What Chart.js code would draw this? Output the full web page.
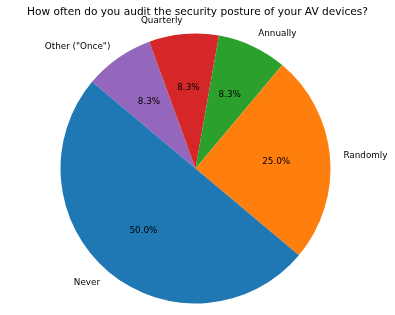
<!DOCTYPE html>
<html>
<head>
<meta charset="utf-8">
<script src="https://cdn.jsdelivr.net/npm/chart.js@4"></script>
<style>
  body { margin: 0; background: #fff; }
  #myPieChart { display: block; }
</style>
</head>
<body>
<canvas id="myPieChart" width="395" height="315"></canvas>
<script>
// Data, in the order the answers were listed
var categories = ['Never', 'Randomly', 'Annually', 'Quarterly', 'Other ("Once")'];
var responses = [6, 3, 1, 1, 1];
var sliceColors = ['#1f77b4', '#ff7f0e', '#2ca02c', '#d62728', '#9467bd'];
var chartTitle = 'How often do you audit the security posture of your AV devices?';

document.addEventListener('DOMContentLoaded', function() {

    // Chart.js goes clockwise, the original went counter-clockwise, so flip the order
    var labels = categories.slice().reverse();
    var values = responses.slice().reverse();
    var colors = sliceColors.slice().reverse();
    var total = values.reduce(function(a, b) { return a + b; }, 0);

    // Draws the title, the outside labels and the percentages
    var pieText = {
        id: 'pieText',
        afterDraw: function(chart) {
            var ctx = chart.ctx;
            ctx.save();
            ctx.fillStyle = '#000';

            ctx.font = '10.6px "DejaVu Sans"';
            ctx.textAlign = 'center';
            ctx.textBaseline = 'alphabetic';
            ctx.fillText(chartTitle, 197.5, 15);

            ctx.font = '8.8px "DejaVu Sans"';
            ctx.textBaseline = 'middle';
            chart.getDatasetMeta(0).data.forEach(function(arc, i) {
                var p = arc.getProps(['x', 'y', 'startAngle', 'endAngle', 'outerRadius'], true);
                var mid = (p.startAngle + p.endAngle) / 2;
                var cx = Math.cos(mid), cy = Math.sin(mid);

                // label at 1.1 radius
                ctx.textAlign = cx > 0 ? 'left' : 'right';
                ctx.fillText(labels[i], p.x + cx * p.outerRadius * 1.1, p.y + cy * p.outerRadius * 1.1);

                // percentage at 0.6 radius
                ctx.textAlign = 'center';
                var pct = (values[i] / total * 100).toFixed(1) + '%';
                ctx.fillText(pct, p.x + cx * p.outerRadius * 0.6, p.y + cy * p.outerRadius * 0.6);
            });
            ctx.restore();
        }
    };

    var ctx = document.getElementById('myPieChart').getContext('2d');
    var myPieChart = new Chart(ctx, {
        type: 'pie',
        data: {
            labels: labels,
            datasets: [{
                data: values,
                backgroundColor: colors,
                borderWidth: 0
            }]
        },
        options: {
            responsive: false,
            animation: false,
            rotation: -50,
            layout: {
                padding: { top: 33.5, bottom: 11.5, left: 60.5, right: 64.5 }
            },
            plugins: {
                legend: { display: false },
                tooltip: { enabled: false }
            }
        },
        plugins: [pieText]
    });
});
</script>
</body>
</html>
